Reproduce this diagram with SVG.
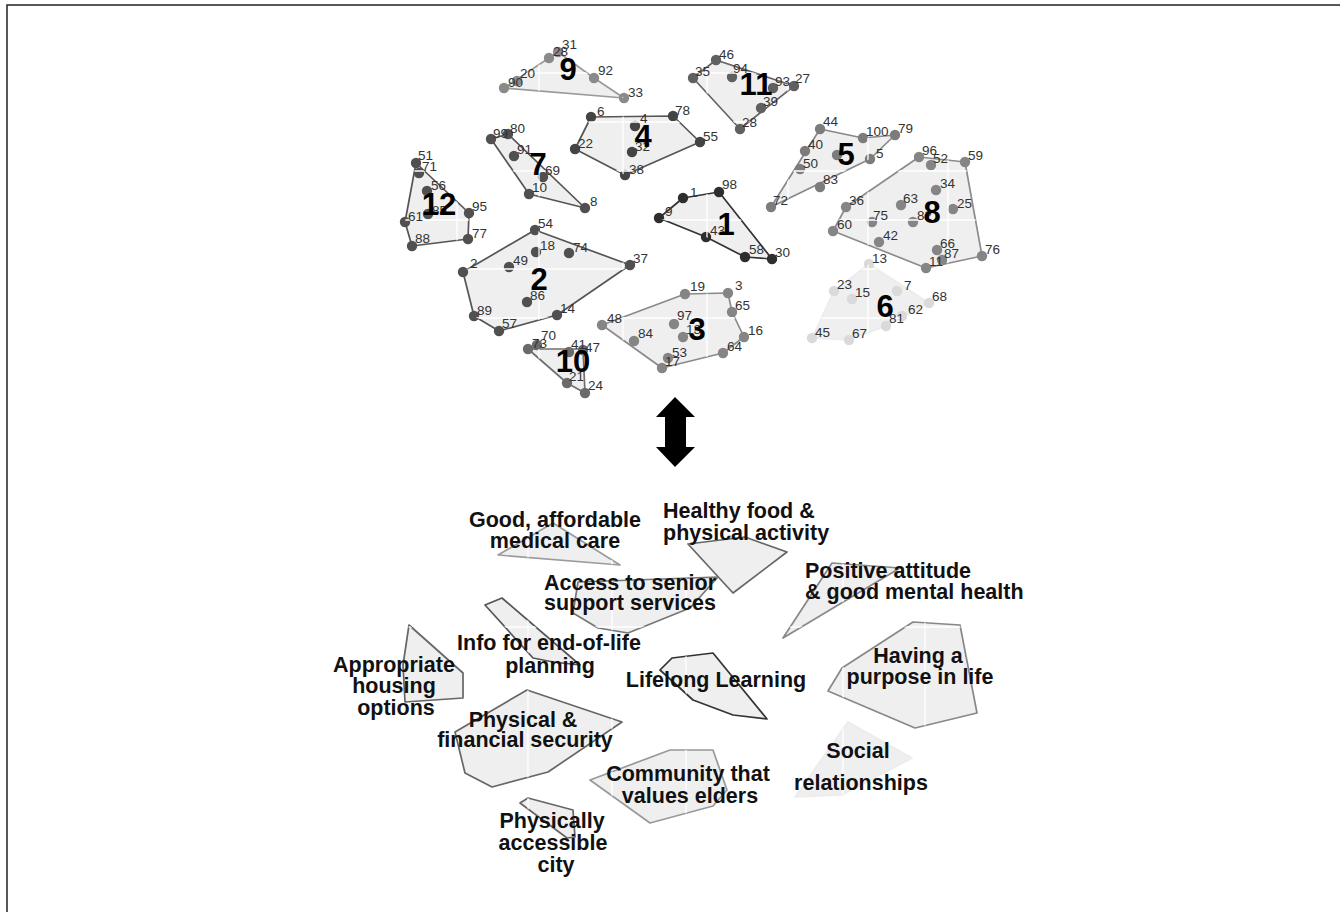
<svg xmlns="http://www.w3.org/2000/svg" xmlns:xlink="http://www.w3.org/1999/xlink" width="1340" height="912" viewBox="0 0 1340 912">
<style>
.hull{fill:#efefef;stroke-width:1.7;stroke-linejoin:round}
.grid{stroke:#ffffff;stroke-width:1.3;fill:none}
.n{font-family:"Liberation Sans",Arial,sans-serif;font-size:13.5px;fill:#333}
.big{font-family:"Liberation Sans",Arial,sans-serif;font-size:31px;font-weight:bold;fill:#000;text-anchor:middle}
.lbl{font-family:"Liberation Sans",Arial,sans-serif;font-size:21.5px;font-weight:bold;fill:#111;text-anchor:middle}
.lbs{font-family:"Liberation Sans",Arial,sans-serif;font-size:21.5px;font-weight:bold;fill:#111}
circle{r:5.2px}
</style>
<defs>
<path id="gt" class="grid" d="M457,20V420M539,20V420M623,20V420M707,20V420M788,20V420M868,20V420M948,20V420M380,73H1010M380,122H1010M380,171H1010M380,220H1010M380,269H1010M380,318H1010"/>
<path id="gb" class="grid" d="M528,500V890M612,500V890M686,500V890M843,500V890M925,500V890M320,627H1040"/>
<polygon id="h9" points="504,88 549,58 558,52 594,78 624,98"/>
<polygon id="h4" points="591,117 673,116 700,142 625,175 575,149"/>
<polygon id="h7" points="491,139 508,134 585,208 529,194"/>
<polygon id="h12" points="416,163 469,213 468,239 412,246 405,222"/>
<polygon id="h11" points="693,78 716,60 794,86 740,129"/>
<polygon id="h5" points="820,129 863,138 895,135 870,159 771,207"/>
<polygon id="h8" points="919,157 965,162 982,256 926,268 833,231 846,207"/>
<polygon id="h1" points="659,218 683,198 719,192 772,259 745,257 706,237"/>
<polygon id="h6" points="869,264 929,303 886,326 849,340 812,338 834,291"/>
<polygon id="h2" points="535,230 630,265 557,315 499,331 474,316 463,272"/>
<polygon id="h10" points="528,349 583,349 585,393 567,383"/>
<polygon id="h3" points="602,325 685,294 728,293 732,312 744,337 723,353 662,368"/>
<polygon id="b1" points="498,555 553,523 620,565"/>
<polygon id="b2" points="688,544 745,537 787,552 733,593"/>
<polygon id="b3" points="578,582 718,577 690,608 628,633 598,628 573,613"/>
<polygon id="b4" points="485,605 502,598 580,665 553,662 533,658"/>
<polygon id="b5" points="409,625 463,673 463,698 405,702 403,665"/>
<polygon id="b6" points="660,670 672,658 713,653 767,719 733,715 693,700"/>
<polygon id="b7" points="832,563 900,568 783,638"/>
<polygon id="b8" points="913,622 960,625 977,713 915,728 828,691 842,668"/>
<polygon id="b9" points="527,690 622,722 548,772 492,787 465,773 455,732"/>
<polygon id="b10" points="590,780 670,750 713,750 727,790 713,806 650,823"/>
<polygon id="b11" points="520,803 528,798 573,810 575,837 567,838"/>
<polygon id="b12" points="848,722 912,758 842,795 795,797"/>
<clipPath id="k9"><use href="#h9"/></clipPath>
<clipPath id="k4"><use href="#h4"/></clipPath>
<clipPath id="k7"><use href="#h7"/></clipPath>
<clipPath id="k12"><use href="#h12"/></clipPath>
<clipPath id="k11"><use href="#h11"/></clipPath>
<clipPath id="k5"><use href="#h5"/></clipPath>
<clipPath id="k8"><use href="#h8"/></clipPath>
<clipPath id="k1"><use href="#h1"/></clipPath>
<clipPath id="k6"><use href="#h6"/></clipPath>
<clipPath id="k2"><use href="#h2"/></clipPath>
<clipPath id="k10"><use href="#h10"/></clipPath>
<clipPath id="k3"><use href="#h3"/></clipPath>
<clipPath id="q1"><use href="#b1"/></clipPath>
<clipPath id="q2"><use href="#b2"/></clipPath>
<clipPath id="q3"><use href="#b3"/></clipPath>
<clipPath id="q4"><use href="#b4"/></clipPath>
<clipPath id="q5"><use href="#b5"/></clipPath>
<clipPath id="q6"><use href="#b6"/></clipPath>
<clipPath id="q7"><use href="#b7"/></clipPath>
<clipPath id="q8"><use href="#b8"/></clipPath>
<clipPath id="q9"><use href="#b9"/></clipPath>
<clipPath id="q10"><use href="#b10"/></clipPath>
<clipPath id="q11"><use href="#b11"/></clipPath>
<clipPath id="q12"><use href="#b12"/></clipPath>
</defs>

<rect x="0" y="0" width="1340" height="912" fill="#fff"/>
<path d="M7,912V5H1340" fill="none" stroke="#222" stroke-width="1.5"/>

<!-- Top clusters -->
<g id="cluster-9">
<use href="#h9" class="hull" stroke="#9a9a9a"/>
<g fill="#8a8a8a"><circle cx="504" cy="88" r="5.2"/><circle cx="517" cy="81" r="5.2"/><circle cx="549" cy="58" r="5.2"/><circle cx="558" cy="52" r="5.2"/><circle cx="594" cy="78" r="5.2"/><circle cx="624" cy="98" r="5.2"/></g>
<use href="#gt" clip-path="url(#k9)"/>
<text class="n" x="508" y="87">90</text><text class="n" x="520" y="78">20</text><text class="n" x="553" y="56">28</text><text class="n" x="562" y="49">31</text><text class="n" x="598" y="75">92</text><text class="n" x="628" y="97">33</text>
<text class="big" x="568" y="80">9</text>
</g>

<g id="cluster-4">
<use href="#h4" class="hull" stroke="#555"/>
<g fill="#444"><circle cx="591" cy="117" r="5.2"/><circle cx="673" cy="116" r="5.2"/><circle cx="700" cy="142" r="5.2"/><circle cx="625" cy="175" r="5.2"/><circle cx="575" cy="149" r="5.2"/><circle cx="635" cy="126" r="5.2"/><circle cx="632" cy="152" r="5.2"/></g>
<use href="#gt" clip-path="url(#k4)"/>
<text class="n" x="597" y="116">6</text><text class="n" x="675" y="115">78</text><text class="n" x="703" y="141">55</text><text class="n" x="629" y="174">38</text><text class="n" x="578" y="148">22</text><text class="n" x="640" y="123">4</text><text class="n" x="635" y="151">32</text>
<text class="big" x="643" y="147">4</text>
</g>

<g id="cluster-7">
<use href="#h7" class="hull" stroke="#555"/>
<g fill="#505050"><circle cx="491" cy="139" r="5.2"/><circle cx="508" cy="134" r="5.2"/><circle cx="514" cy="156" r="5.2"/><circle cx="543" cy="177" r="5.2"/><circle cx="529" cy="194" r="5.2"/><circle cx="585" cy="208" r="5.2"/></g>
<use href="#gt" clip-path="url(#k7)"/>
<text class="n" x="493" y="138">99</text><text class="n" x="510" y="133">80</text><text class="n" x="517" y="154">91</text><text class="n" x="545" y="175">69</text><text class="n" x="532" y="192">10</text><text class="n" x="590" y="206">8</text>
<text class="big" x="538" y="175">7</text>
</g>

<g id="cluster-12">
<use href="#h12" class="hull" stroke="#555"/>
<g fill="#505050"><circle cx="416" cy="163" r="5.2"/><circle cx="419" cy="173" r="5.2"/><circle cx="427" cy="191" r="5.2"/><circle cx="428" cy="214" r="5.2"/><circle cx="469" cy="213" r="5.2"/><circle cx="468" cy="239" r="5.2"/><circle cx="412" cy="246" r="5.2"/><circle cx="405" cy="222" r="5.2"/></g>
<use href="#gt" clip-path="url(#k12)"/>
<text class="n" x="418" y="160">51</text><text class="n" x="422" y="171">71</text><text class="n" x="431" y="190">56</text><text class="n" x="432" y="215">85</text><text class="n" x="472" y="211">95</text><text class="n" x="472" y="238">77</text><text class="n" x="415" y="243">88</text><text class="n" x="408" y="221">61</text>
<text class="big" x="439" y="215">12</text>
</g>

<g id="cluster-11">
<use href="#h11" class="hull" stroke="#666"/>
<g fill="#606060"><circle cx="716" cy="60" r="5.2"/><circle cx="693" cy="78" r="5.2"/><circle cx="732" cy="77" r="5.2"/><circle cx="773" cy="88" r="5.2"/><circle cx="794" cy="86" r="5.2"/><circle cx="761" cy="108" r="5.2"/><circle cx="740" cy="129" r="5.2"/></g>
<use href="#gt" clip-path="url(#k11)"/>
<text class="n" x="719" y="59">46</text><text class="n" x="695" y="76">35</text><text class="n" x="733" y="73">94</text><text class="n" x="775" y="86">93</text><text class="n" x="795" y="83">27</text><text class="n" x="763" y="106">39</text><text class="n" x="742" y="127">28</text>
<text class="big" x="756" y="95">11</text>
</g>

<g id="cluster-5">
<use href="#h5" class="hull" stroke="#888"/>
<g fill="#7c7c7c"><circle cx="820" cy="129" r="5.2"/><circle cx="863" cy="138" r="5.2"/><circle cx="895" cy="135" r="5.2"/><circle cx="870" cy="159" r="5.2"/><circle cx="805" cy="151" r="5.2"/><circle cx="800" cy="169" r="5.2"/><circle cx="820" cy="187" r="5.2"/><circle cx="771" cy="207" r="5.2"/><circle cx="837" cy="155" r="5.2"/></g>
<use href="#gt" clip-path="url(#k5)"/>
<text class="n" x="823" y="126">44</text><text class="n" x="866" y="136">100</text><text class="n" x="898" y="133">79</text><text class="n" x="876" y="158">5</text><text class="n" x="808" y="149">40</text><text class="n" x="803" y="168">50</text><text class="n" x="823" y="184">83</text><text class="n" x="773" y="205">72</text>
<text class="big" x="846" y="165">5</text>
</g>

<g id="cluster-8">
<use href="#h8" class="hull" stroke="#8c8c8c"/>
<g fill="#858585"><circle cx="919" cy="157" r="5.2"/><circle cx="931" cy="165" r="5.2"/><circle cx="965" cy="162" r="5.2"/><circle cx="936" cy="190" r="5.2"/><circle cx="953" cy="209" r="5.2"/><circle cx="901" cy="205" r="5.2"/><circle cx="846" cy="207" r="5.2"/><circle cx="872" cy="222" r="5.2"/><circle cx="913" cy="222" r="5.2"/><circle cx="833" cy="231" r="5.2"/><circle cx="879" cy="242" r="5.2"/><circle cx="937" cy="250" r="5.2"/><circle cx="942" cy="260" r="5.2"/><circle cx="926" cy="268" r="5.2"/><circle cx="982" cy="256" r="5.2"/></g>
<use href="#gt" clip-path="url(#k8)"/>
<text class="n" x="922" y="155">96</text><text class="n" x="933" y="163">52</text><text class="n" x="968" y="160">59</text><text class="n" x="940" y="188">34</text><text class="n" x="957" y="208">25</text><text class="n" x="903" y="203">63</text><text class="n" x="849" y="205">36</text><text class="n" x="873" y="220">75</text><text class="n" x="917" y="220">82</text><text class="n" x="837" y="229">60</text><text class="n" x="883" y="240">42</text><text class="n" x="940" y="248">66</text><text class="n" x="944" y="258">87</text><text class="n" x="929" y="266">11</text><text class="n" x="985" y="254">76</text>
<text class="big" x="932" y="223">8</text>
</g>

<g id="cluster-1">
<use href="#h1" class="hull" stroke="#333"/>
<g fill="#2e2e2e"><circle cx="659" cy="218" r="5.2"/><circle cx="683" cy="198" r="5.2"/><circle cx="719" cy="192" r="5.2"/><circle cx="706" cy="237" r="5.2"/><circle cx="745" cy="257" r="5.2"/><circle cx="772" cy="259" r="5.2"/></g>
<use href="#gt" clip-path="url(#k1)"/>
<text class="n" x="665" y="216">9</text><text class="n" x="690" y="197">1</text><text class="n" x="722" y="189">98</text><text class="n" x="710" y="235">43</text><text class="n" x="749" y="254">58</text><text class="n" x="775" y="257">30</text>
<text class="big" x="726" y="235">1</text>
</g>

<g id="cluster-6">
<use href="#h6" class="hull" stroke="#ececec" fill="#efefef"/>
<g fill="#dadada"><circle cx="869" cy="264" r="5.2"/><circle cx="834" cy="291" r="5.2"/><circle cx="852" cy="299" r="5.2"/><circle cx="897" cy="291" r="5.2"/><circle cx="929" cy="303" r="5.2"/><circle cx="902" cy="316" r="5.2"/><circle cx="886" cy="326" r="5.2"/><circle cx="812" cy="338" r="5.2"/><circle cx="849" cy="340" r="5.2"/></g>
<use href="#gt" clip-path="url(#k6)"/>
<text class="n" x="872" y="263">13</text><text class="n" x="837" y="289">23</text><text class="n" x="855" y="297">15</text><text class="n" x="904" y="290">7</text><text class="n" x="932" y="301">68</text><text class="n" x="908" y="314">62</text><text class="n" x="889" y="323">81</text><text class="n" x="815" y="337">45</text><text class="n" x="852" y="338">67</text>
<text class="big" x="885" y="317">6</text>
</g>

<g id="cluster-2">
<use href="#h2" class="hull" stroke="#555"/>
<g fill="#505050"><circle cx="535" cy="230" r="5.2"/><circle cx="536" cy="252" r="5.2"/><circle cx="569" cy="253" r="5.2"/><circle cx="630" cy="265" r="5.2"/><circle cx="463" cy="272" r="5.2"/><circle cx="509" cy="267" r="5.2"/><circle cx="527" cy="302" r="5.2"/><circle cx="557" cy="315" r="5.2"/><circle cx="474" cy="316" r="5.2"/><circle cx="499" cy="331" r="5.2"/></g>
<use href="#gt" clip-path="url(#k2)"/>
<text class="n" x="538" y="228">54</text><text class="n" x="540" y="250">18</text><text class="n" x="573" y="252">74</text><text class="n" x="633" y="263">37</text><text class="n" x="470" y="268">2</text><text class="n" x="513" y="265">49</text><text class="n" x="530" y="300">86</text><text class="n" x="560" y="313">14</text><text class="n" x="477" y="315">89</text><text class="n" x="502" y="328">57</text>
<text class="big" x="539" y="290">2</text>
</g>

<g id="cluster-10">
<use href="#h10" class="hull" stroke="#707070"/>
<g fill="#6a6a6a"><circle cx="528" cy="349" r="5.2"/><circle cx="537" cy="345" r="5.2"/><circle cx="569" cy="352" r="5.2"/><circle cx="583" cy="350" r="5.2"/><circle cx="567" cy="383" r="5.2"/><circle cx="585" cy="393" r="5.2"/></g>
<use href="#gt" clip-path="url(#k10)"/>
<text class="n" x="532" y="348">73</text><text class="n" x="541" y="340">70</text><text class="n" x="571" y="349">41</text><text class="n" x="585" y="352">47</text><text class="n" x="569" y="381">21</text><text class="n" x="588" y="390">24</text>
<text class="big" x="573" y="372">10</text>
</g>

<g id="cluster-3">
<use href="#h3" class="hull" stroke="#8a8a8a"/>
<g fill="#858585"><circle cx="602" cy="325" r="5.2"/><circle cx="685" cy="294" r="5.2"/><circle cx="728" cy="293" r="5.2"/><circle cx="732" cy="312" r="5.2"/><circle cx="744" cy="337" r="5.2"/><circle cx="723" cy="353" r="5.2"/><circle cx="662" cy="368" r="5.2"/><circle cx="668" cy="358" r="5.2"/><circle cx="634" cy="341" r="5.2"/><circle cx="674" cy="324" r="5.2"/><circle cx="683" cy="337" r="5.2"/></g>
<use href="#gt" clip-path="url(#k3)"/>
<text class="n" x="607" y="323">48</text><text class="n" x="690" y="291">19</text><text class="n" x="735" y="290">3</text><text class="n" x="735" y="310">65</text><text class="n" x="748" y="335">16</text><text class="n" x="727" y="351">64</text><text class="n" x="665" y="366">17</text><text class="n" x="672" y="357">53</text><text class="n" x="638" y="338">84</text><text class="n" x="677" y="320">97</text><text class="n" x="686" y="334">13</text>
<text class="big" x="697" y="340">3</text>
</g>

<!-- Connector: double-headed arrow -->
<g id="connectors">
<polygon points="675,397 695,417 686,417 686,447 695,447 675,467 656,447 665,447 665,417 656,417" fill="#000"/>
</g>

<!-- Bottom regions -->
<g id="good-medical-care">
<use href="#b1" class="hull" stroke="#9c9c9c"/>
<use href="#gb" clip-path="url(#q1)"/>
<text class="lbl" x="555" y="527">Good, affordable</text>
<text class="lbl" x="555" y="548">medical care</text>
</g>
<g id="healthy-food">
<use href="#b2" class="hull" stroke="#666"/>
<use href="#gb" clip-path="url(#q2)"/>
<text class="lbs" x="663" y="518">Healthy food &amp;</text>
<text class="lbs" x="663" y="540">physical activity</text>
</g>
<g id="senior-support">
<use href="#b3" class="hull" stroke="#777"/>
<use href="#gb" clip-path="url(#q3)"/>
<text class="lbl" x="630" y="590">Access to senior</text>
<text class="lbl" x="630" y="610">support services</text>
</g>
<g id="end-of-life">
<use href="#b4" class="hull" stroke="#555"/>
<use href="#gb" clip-path="url(#q4)"/>
<text class="lbl" x="549" y="650">Info for end-of-life</text>
<text class="lbl" x="550" y="673">planning</text>
</g>
<g id="housing">
<use href="#b5" class="hull" stroke="#666"/>
<use href="#gb" clip-path="url(#q5)"/>
<text class="lbl" x="394" y="672">Appropriate</text>
<text class="lbl" x="394" y="693">housing</text>
<text class="lbl" x="396" y="715">options</text>
</g>
<g id="lifelong-learning">
<use href="#b6" class="hull" stroke="#333"/>
<use href="#gb" clip-path="url(#q6)"/>
<text class="lbl" x="716" y="687">Lifelong Learning</text>
</g>
<g id="positive-attitude">
<use href="#b7" class="hull" stroke="#888"/>
<use href="#gb" clip-path="url(#q7)"/>
<text class="lbs" x="805" y="578">Positive attitude</text>
<text class="lbs" x="805" y="599">&amp; good mental health</text>
</g>
<g id="purpose-in-life">
<use href="#b8" class="hull" stroke="#888"/>
<use href="#gb" clip-path="url(#q8)"/>
<text class="lbl" x="918" y="663">Having a</text>
<text class="lbl" x="920" y="684">purpose in life</text>
</g>
<g id="security">
<use href="#b9" class="hull" stroke="#666"/>
<use href="#gb" clip-path="url(#q9)"/>
<text class="lbl" x="523" y="727">Physical &amp;</text>
<text class="lbl" x="525" y="747">financial security</text>
</g>
<g id="community">
<use href="#b10" class="hull" stroke="#999"/>
<use href="#gb" clip-path="url(#q10)"/>
<text class="lbl" x="688" y="781">Community that</text>
<text class="lbl" x="690" y="803">values elders</text>
</g>
<g id="accessible-city">
<use href="#b11" class="hull" stroke="#666"/>
<use href="#gb" clip-path="url(#q11)"/>
<text class="lbl" x="552" y="828">Physically</text>
<text class="lbl" x="553" y="850">accessible</text>
<text class="lbl" x="556" y="872">city</text>
</g>
<g id="social-relationships">
<use href="#b12" class="hull" stroke="#ececec"/>
<use href="#gb" clip-path="url(#q12)"/>
<text class="lbl" x="858" y="758">Social</text>
<text class="lbl" x="861" y="790">relationships</text>
</g>
</svg>
